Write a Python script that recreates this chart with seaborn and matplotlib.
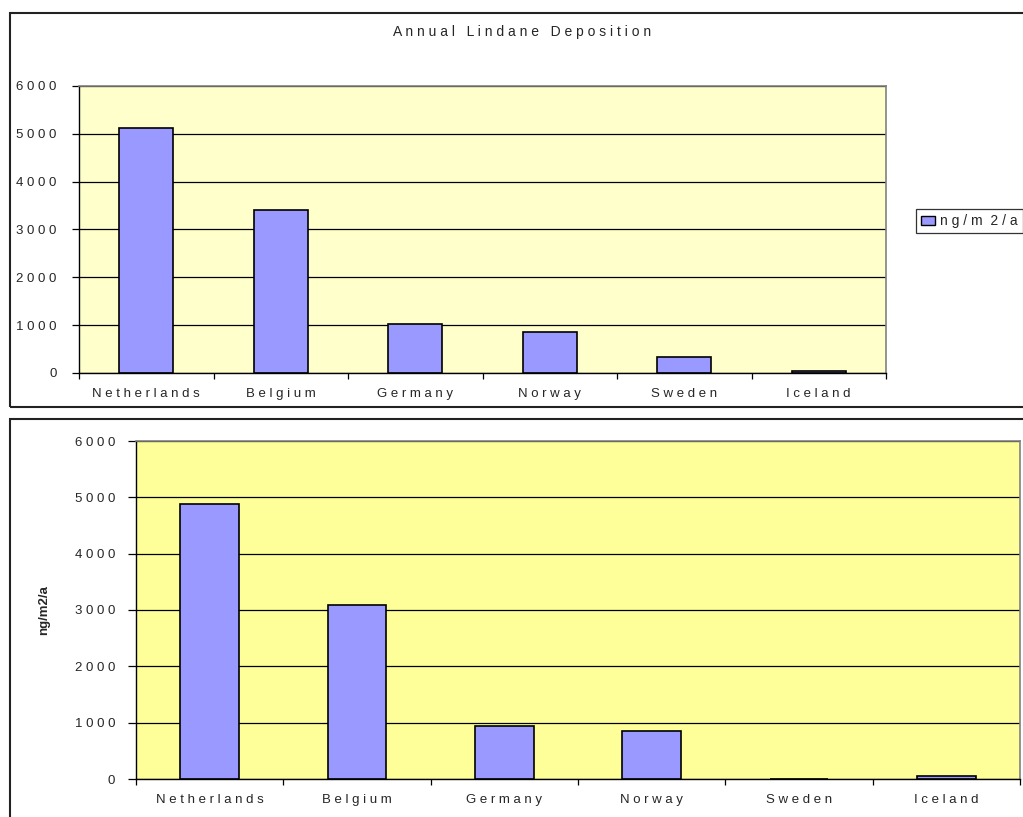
import matplotlib
matplotlib.use("Agg")
import matplotlib.pyplot as plt
from matplotlib.patches import Rectangle, Patch
import seaborn as sns
import pandas as pd

# Annual lindane deposition per country (ng/m2/a)
countries = ["Netherlands", "Belgium", "Germany", "Norway", "Sweden", "Iceland"]
deposition_a = [5125, 3410, 1020, 865, 330, 40]
deposition_b = [4880, 3090, 940, 850, 0, 45]
y_ticks = [0, 1000, 2000, 3000, 4000, 5000, 6000]

sns.set_style("white")
plt.rcParams["font.family"] = ["Liberation Sans", "DejaVu Sans"]

W, H = 1023, 817
fig = plt.figure(figsize=(W / 100, H / 100), dpi=100)


def spaced(s, sep=" "):
    return sep.join(list(s))


def px_axes(left, top, right, bottom):
    return fig.add_axes([left / W, (H - bottom) / H, (right - left) / W, (bottom - top) / H])


def style_axes(ax, bg, fs, ypad, ylen, xpad):
    ax.set_facecolor(bg)
    ax.set_xlim(-0.5, len(countries) - 0.5)
    ax.set_ylim(0, 6000)
    ax.set_yticks(y_ticks)
    ax.set_yticklabels([spaced(str(v)) for v in y_ticks], fontsize=fs)
    ax.set_xticks(range(len(countries)))
    ax.set_xticklabels([spaced(c) for c in countries], fontsize=fs)
    ax.set_xticks([i - 0.5 for i in range(len(countries) + 1)], minor=True)
    ax.tick_params(axis="x", which="major", bottom=True, length=0, pad=xpad)
    ax.tick_params(axis="x", which="minor", bottom=True, length=4, width=0.9,
                   color="black", direction="out")
    ax.tick_params(axis="y", left=True, length=ylen, width=0.9, color="black",
                   direction="out", pad=ypad)
    ax.yaxis.grid(True, color="black", linewidth=0.9)
    ax.xaxis.grid(False)
    ax.set_axisbelow(True)
    for side in ("left", "bottom"):
        ax.spines[side].set_color("black")
        ax.spines[side].set_linewidth(1.0)
    for side in ("top", "right"):
        ax.spines[side].set_color("#808080")
        ax.spines[side].set_linewidth(1.2)
    ax.set_xlabel("")
    ax.set_ylabel("")


# Top chart
ax1 = px_axes(79, 86, 886, 373)
df1 = pd.DataFrame({"country": countries, "value": deposition_a})
sns.barplot(data=df1, x="country", y="value", color="#9999FF", saturation=1,
            edgecolor="black", linewidth=1.2, width=0.4, ax=ax1)
style_axes(ax1, "#FFFFCC", 9.5, 11, 5, 11)
fig.text(522 / W, 1 - 32 / H, "A n n u a l   L i n d a n e   D e p o s i t i o n",
         ha="center", va="center", fontsize=10)
leg = ax1.legend(handles=[Patch(facecolor="#9999FF", edgecolor="black", linewidth=1.0)],
                 labels=["n g / m  2 / a"], loc="center left",
                 bbox_to_anchor=(916 / W, 1 - 221 / H), bbox_transform=fig.transFigure,
                 frameon=True, fancybox=False, fontsize=10, handlelength=1.0,
                 handleheight=0.6, handletextpad=0.4, borderpad=0.35, borderaxespad=0)
leg.get_frame().set_edgecolor("black")
leg.get_frame().set_linewidth(0.9)

# Bottom chart
ax2 = px_axes(136, 441, 1020, 779)
df2 = pd.DataFrame({"country": countries, "value": deposition_b})
sns.barplot(data=df2, x="country", y="value", color="#9999FF", saturation=1,
            edgecolor="black", linewidth=1.2, width=0.4, ax=ax2)
style_axes(ax2, "#FFFF99", 9.5, 9, 6, 11)
ax2.set_ylabel("ng/m2/a", fontsize=9.5, fontweight="bold")
ax2.yaxis.set_label_coords((50 - 136) / 884, 0.5)

# Chart frames
fig.add_artist(Rectangle((10 / W, (H - 407) / H), 1.2, (407 - 13) / H,
                         transform=fig.transFigure, fill=False,
                         edgecolor="#222222", linewidth=1.5))
fig.add_artist(Rectangle((10 / W, -0.2), 1.2, (H - 419) / H + 0.2,
                         transform=fig.transFigure, fill=False,
                         edgecolor="#222222", linewidth=1.5))

fig.savefig("out.png", dpi=100)
